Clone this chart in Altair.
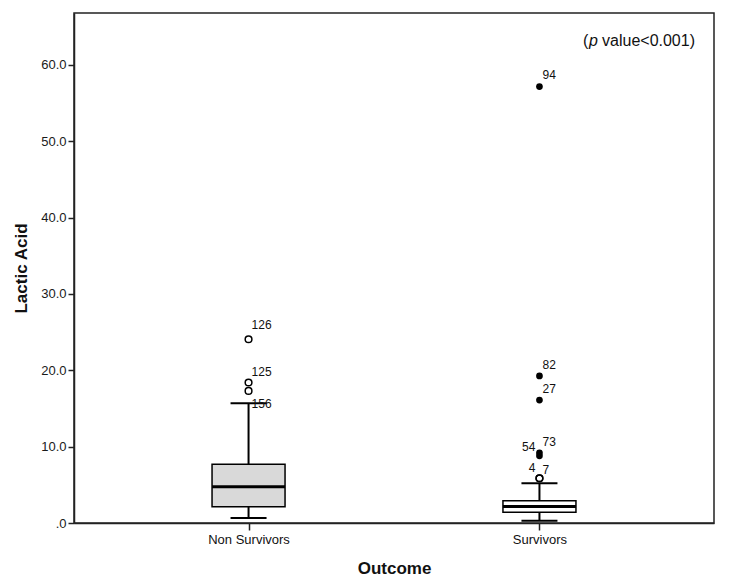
import altair as alt
import pandas as pd

# ---- data ----
groups = ["Non Survivors", "Survivors"]
q1 = [2.14, 1.40]
median = [4.76, 2.15]
q3 = [7.70, 2.92]
whisker_low = [0.66, 0.30]
whisker_high = [15.7, 5.2]
box_fill = ["#d9d9d9", "#ffffff"]

out_group = ["Non Survivors", "Non Survivors", "Non Survivors",
             "Survivors", "Survivors", "Survivors", "Survivors",
             "Survivors", "Survivors", "Survivors"]
out_value = [24.07, 18.4, 17.3, 5.86, 5.86, 9.2, 8.8, 16.1, 19.26, 57.16]
out_extreme = [False, False, False, False, False, True, True, True, True, True]
out_label = ["126", "125", "156", "4", "7", "54", "73", "27", "82", "94"]
label_at = [25.94, 19.78, 15.6, 7.17, 6.94, 10.0, 10.65, 17.5, 20.7, 58.7]
label_side = ["right", "right", "right", "left", "right", "left", "right",
              "right", "right", "right"]

y_ticks = [0, 10, 20, 30, 40, 50, 60]
y_max = 66.8

box_df = pd.DataFrame({
    "Outcome": groups, "q1": q1, "median": median, "q3": q3,
    "lo": whisker_low, "hi": whisker_high, "fill": box_fill,
})
out_df = pd.DataFrame({
    "Outcome": out_group, "value": out_value, "extreme": out_extreme,
    "label": out_label, "label_at": label_at, "side": label_side,
})

x_enc = alt.X("Outcome:N",
              scale=alt.Scale(type="point", padding=0.6, domain=groups),
              axis=alt.Axis(title="Outcome", labelAngle=0, labelFontSize=13,
                            labelColor="#111", labelFont="Liberation Sans",
                            labelPadding=3, tickSize=7, tickColor="#222",
                            tickWidth=1.5, domainColor="#222", domainWidth=1.5,
                            titleFont="Liberation Sans", titleFontSize=17,
                            titleFontWeight="bold", titleColor="#111",
                            titlePadding=14, grid=False))
y_scale = alt.Scale(domain=[0, y_max], nice=False, zero=True)
y_axis = alt.Axis(title="Lactic Acid", values=y_ticks,
                  labelExpr="datum.value == 0 ? '.0' : format(datum.value, '.1f')",
                  labelFontSize=13, labelColor="#1a1a1a", labelFont="Liberation Sans",
                  labelPadding=2, tickSize=6, tickColor="#222", tickWidth=1.5,
                  domainColor="#222", domainWidth=1.5, grid=False,
                  titleFont="Liberation Sans", titleFontSize=17,
                  titleFontWeight="bold", titleColor="#111", titlePadding=10)

base = alt.Chart(box_df)

whisker = base.mark_rule(color="black", strokeWidth=2).encode(
    x=x_enc, y=alt.Y("lo:Q", scale=y_scale, axis=y_axis), y2="hi:Q")
box = base.mark_bar(size=73, stroke="black", strokeWidth=1.5, opacity=1).encode(
    x=x_enc, y=alt.Y("q1:Q", scale=y_scale), y2="q3:Q",
    fill=alt.Fill("fill:N", scale=None))
med = base.mark_tick(color="black", size=73, thickness=3, opacity=1).encode(
    x=x_enc, y=alt.Y("median:Q", scale=y_scale))
cap_hi = base.mark_tick(color="black", size=36, thickness=2, opacity=1).encode(
    x=x_enc, y=alt.Y("hi:Q", scale=y_scale))
cap_lo = base.mark_tick(color="black", size=36, thickness=2, opacity=1).encode(
    x=x_enc, y=alt.Y("lo:Q", scale=y_scale))

odf = alt.Chart(out_df)
open_pts = odf.transform_filter("!datum.extreme").mark_point(
    shape="circle", size=45, filled=False, stroke="black", strokeWidth=1.5,
    opacity=1).encode(x=x_enc, y=alt.Y("value:Q", scale=y_scale))
fill_pts = odf.transform_filter("datum.extreme").mark_point(
    shape="circle", size=45, filled=True, color="black", opacity=1).encode(
    x=x_enc, y=alt.Y("value:Q", scale=y_scale))
lab_r = odf.transform_filter("datum.side == 'right'").mark_text(
    align="left", baseline="middle", dx=3, fontSize=12,
    font="Liberation Sans", color="#111").encode(
    x=x_enc, y=alt.Y("label_at:Q", scale=y_scale), text="label:N")
lab_l = odf.transform_filter("datum.side == 'left'").mark_text(
    align="right", baseline="middle", dx=-4, fontSize=12,
    font="Liberation Sans", color="#111").encode(
    x=x_enc, y=alt.Y("label_at:Q", scale=y_scale), text="label:N")

note_df = pd.DataFrame({"a": [1]})
note1 = alt.Chart(note_df).mark_text(
    align="left", baseline="middle", fontSize=16, font="Liberation Sans",
    color="#111").encode(x=alt.value(509), y=alt.value(28), text=alt.value("("))
note2 = alt.Chart(note_df).mark_text(
    align="left", baseline="middle", fontSize=16, font="Liberation Sans",
    fontStyle="italic", color="#111").encode(
    x=alt.value(515), y=alt.value(28), text=alt.value("p"))
note3 = alt.Chart(note_df).mark_text(
    align="right", baseline="middle", fontSize=16, font="Liberation Sans",
    color="#111").encode(
    x=alt.value(621), y=alt.value(28), text=alt.value("value<0.001)"))

chart = alt.layer(whisker, box, med, cap_hi, cap_lo, open_pts, fill_pts,
                  lab_r, lab_l, note1, note2, note3).properties(
    width=640, height=510,
    autosize=alt.AutoSizeParams(type="none"),
    padding={"left": 66, "top": 5, "right": 10, "bottom": 62},
).configure(background="white").configure_view(stroke="#222", strokeWidth=1.5)

chart.save("out.html", embed_options={"renderer": "svg", "actions": False})
